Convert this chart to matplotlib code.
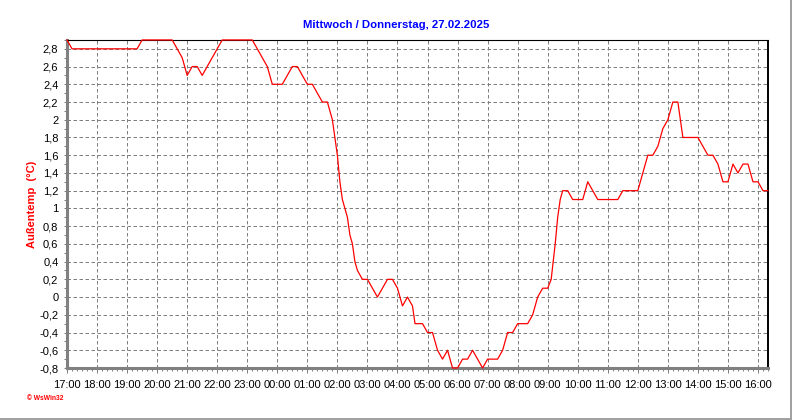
import matplotlib
matplotlib.use("Agg")
import matplotlib.pyplot as plt
import matplotlib.dates as mdates
from matplotlib.ticker import MultipleLocator, FuncFormatter
from matplotlib.lines import Line2D
from datetime import datetime

plt.rcParams['font.family'] = ['Liberation Sans', 'DejaVu Sans']

title = "Mittwoch / Donnerstag, 27.02.2025"
ylabel = "Außentemp  (°C)"
credit = "© WsWin32"

times = [
    "17:00", "17:10", "19:20", "19:30", "20:30", "20:40", "20:50", "21:00",
    "21:10", "21:20", "21:30", "22:10", "23:10", "23:20", "23:30", "23:40",
    "23:50", "00:10", "00:30", "00:40", "01:00", "01:10", "01:30", "01:40",
    "01:45", "01:50", "01:55", "02:00", "02:05", "02:10", "02:15", "02:20",
    "02:25", "02:30", "02:35", "02:40", "02:50", "03:00", "03:20", "03:40",
    "03:50", "04:00", "04:10", "04:20", "04:30", "04:35", "04:50", "05:00",
    "05:10", "05:20", "05:30", "05:40", "05:50", "06:00", "06:10", "06:20",
    "06:30", "06:40", "06:50", "07:00", "07:20", "07:30", "07:40", "07:50",
    "08:00", "08:20", "08:30", "08:40", "08:50", "09:00", "09:07", "09:10",
    "09:15", "09:20", "09:25", "09:30", "09:40", "09:50", "10:10", "10:20",
    "10:30", "10:40", "11:20", "11:30", "12:00", "12:10", "12:20", "12:30",
    "12:40", "12:45", "12:50", "12:55", "13:00", "13:05", "13:10", "13:20",
    "13:30", "14:00", "14:10", "14:20", "14:30", "14:40", "14:50", "15:00",
    "15:10", "15:20", "15:30", "15:40", "15:50", "16:00", "16:10", "16:20",
]
temps = [
    2.9, 2.8, 2.8, 2.9, 2.9, 2.8, 2.7, 2.5,
    2.6, 2.6, 2.5, 2.9, 2.9, 2.8, 2.7, 2.6,
    2.4, 2.4, 2.6, 2.6, 2.4, 2.4, 2.2, 2.2,
    2.1, 2.0, 1.8, 1.6, 1.3, 1.1, 1.0, 0.9,
    0.7, 0.6, 0.4, 0.3, 0.2, 0.2, 0.0, 0.2,
    0.2, 0.1, -0.1, 0.0, -0.1, -0.3, -0.3, -0.4,
    -0.4, -0.6, -0.7, -0.6, -0.8, -0.8, -0.7, -0.7,
    -0.6, -0.7, -0.8, -0.7, -0.7, -0.6, -0.4, -0.4,
    -0.3, -0.3, -0.2, 0.0, 0.1, 0.1, 0.2, 0.35,
    0.6, 0.9, 1.1, 1.2, 1.2, 1.1, 1.1, 1.3,
    1.2, 1.1, 1.1, 1.2, 1.2, 1.4, 1.6, 1.6,
    1.7, 1.8, 1.9, 1.95, 2.0, 2.1, 2.2, 2.2,
    1.8, 1.8, 1.7, 1.6, 1.6, 1.5, 1.3, 1.3,
    1.5, 1.4, 1.5, 1.5, 1.3, 1.3, 1.2, 1.2,
]


def to_dt(s):
    h, m = map(int, s.split(":"))
    day = 26 if h >= 17 else 27
    return datetime(2025, 2, day, h, m)


x = [to_dt(t) for t in times]

W, H = 792, 420
fig = plt.figure(figsize=(W / 100, H / 100), dpi=100)
fig.patch.set_facecolor('white')

L, R, T, B = 67, 768, 39.5, 368
ax = fig.add_axes([L / W, 1 - B / H, (R - L) / W, (B - T) / H])

ax.plot(x, temps, color='#ff0000', lw=0.9, zorder=3, clip_on=False)
ax.set_xlim(datetime(2025, 2, 26, 17, 0), datetime(2025, 2, 27, 16, 20))
ax.set_ylim(-0.8, 2.905)

ax.xaxis.set_major_locator(mdates.HourLocator())
ax.xaxis.set_minor_locator(mdates.MinuteLocator(byminute=[10, 20, 30, 40, 50]))
ax.xaxis.set_major_formatter(mdates.DateFormatter('%H:%M'))
ax.yaxis.set_major_locator(MultipleLocator(0.2))
ax.yaxis.set_minor_locator(MultipleLocator(0.1))
ax.yaxis.set_major_formatter(
    FuncFormatter(lambda v, p: ('%g' % (round(v, 1) + 0.0)).replace('.', ',')))

ax.grid(True, which='major', color='#808080', linestyle=(0, (3.5, 2.5)), lw=0.72)
ax.set_axisbelow(True)

ax.tick_params(axis='both', which='both', color='#808080', direction='out',
               width=0.72, labelsize=8, labelcolor='black')
ax.tick_params(axis='x', which='major', length=3.6, pad=5)
ax.tick_params(axis='x', which='minor', length=2.2)
ax.tick_params(axis='y', which='major', length=2.2, pad=4)
ax.tick_params(axis='y', which='minor', length=2.2)

for side in ('left', 'bottom'):
    ax.spines[side].set_color('#808080')
    ax.spines[side].set_linewidth(2.2)
ax.spines['top'].set_color('black')
ax.spines['top'].set_linewidth(0.8)
ax.spines['right'].set_color('black')
ax.spines['right'].set_linewidth(1.4)
ax.spines['right'].set_capstyle('butt')

fig.text(0.5, 1 - 25 / H, title, ha='center', va='center', color='#0000ff',
         fontweight='bold', fontsize=8.2)
fig.text(31.7 / W, 1 - 204 / H, ylabel, ha='center', va='center', rotation=90,
         color='#ff0000', fontweight='bold', fontsize=8.0)
fig.text(27 / W, 1 - 399 / H, credit, ha='left', va='center', color='#ff0000',
         fontweight='bold', fontsize=4.8)

fig.add_artist(Line2D([790.5 / W, 790.5 / W], [0, 1], color='#a0a0a0', lw=1.4,
                      transform=fig.transFigure))
fig.add_artist(Line2D([0, 1], [1 - 418.8 / H, 1 - 418.8 / H], color='#a0a0a0', lw=1.4,
                      transform=fig.transFigure))

fig.savefig('out.png', dpi=100, facecolor='white')
